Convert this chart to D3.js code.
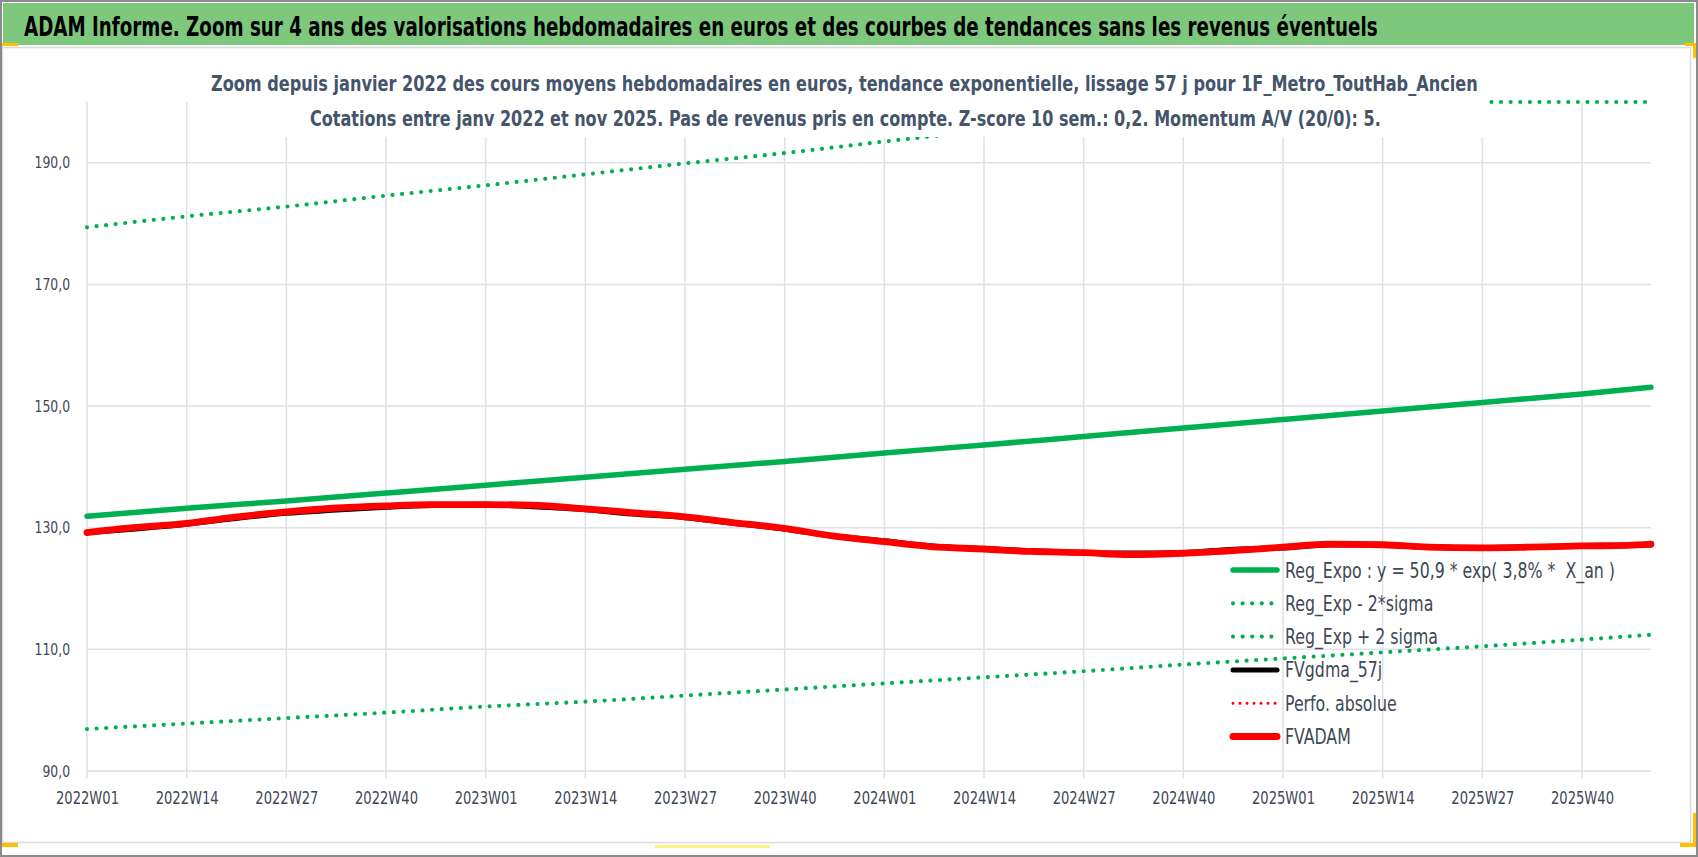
<!DOCTYPE html>
<html>
<head>
<meta charset="utf-8">
<script src="https://cdn.jsdelivr.net/npm/d3@7"></script>
<style>
  body { margin: 0; background: #fff; }
  svg { display: block; }
  text { font-family: "Liberation Sans Narrow", "DejaVu Sans Condensed", "Noto Sans", sans-serif; }
</style>
</head>
<body>
<svg id="chart" width="1698" height="857"></svg>
<script>
// ---- données ----
const years        = [2022, 2023, 2024, 2025];
const weeksPerYear = [52, 52, 52, 49];
const tickWeeks = ["2022W01","2022W14","2022W27","2022W40","2023W01","2023W14","2023W27","2023W40",
                   "2024W01","2024W14","2024W27","2024W40","2025W01","2025W14","2025W27","2025W40"];
const yTicks = [90, 110, 130, 150, 170, 190];

// courbes de tendance (relevées aux semaines de graduation + dernière semaine)
const trendWeeks = tickWeeks.concat(["2025W49"]);
const regExpo  = [131.9,133.2,134.4,135.7,137.0,138.3,139.6,140.9,142.3,143.6,145.0,146.4,147.8,149.2,150.6,152.0,153.1];
const regMinus = [96.9,97.8,98.7,99.6,100.6,101.4,102.4,103.4,104.4,105.4,106.4,107.5,108.5,109.5,110.5,111.6,112.4];
const regPlus  = [179.4,181.2,182.8,184.6,186.3,188.1,189.9,191.6,193.5,195.3,197.2,199.1,201.0,202.9,204.8,206.7,208.1];

// cours lissés
const adamWeeks = ["2022W01","2022W07","2022W14","2022W20","2022W27","2022W33","2022W40","2022W46",
                   "2023W01","2023W07","2023W14","2023W20","2023W27","2023W33","2023W40","2023W46",
                   "2024W01","2024W07","2024W14","2024W20","2024W27","2024W33","2024W40","2024W46",
                   "2025W01","2025W07","2025W14","2025W20","2025W27","2025W33","2025W40","2025W46","2025W49"];
const fvAdam = [129.2,130.0,130.7,131.7,132.6,133.2,133.6,133.8,
                133.8,133.7,133.1,132.5,131.8,130.9,129.9,128.7,
                127.7,126.9,126.5,126.1,125.9,125.6,125.8,126.2,
                126.8,127.3,127.2,126.8,126.7,126.8,127.0,127.1,127.3];
const fvGdma = [129.2,129.8,130.6,131.5,132.4,132.9,133.4,133.7,
                133.8,133.5,133.0,132.3,131.7,130.8,129.8,128.7,
                127.8,127.0,126.5,126.2,125.9,125.8,125.9,126.4,
                126.7,127.2,127.2,126.8,126.7,126.8,127.0,127.1,127.2];

const legendItems = [
  { label: "Reg_Expo : y = 50,9 * exp( 3,8% *  X_an )", color: "#00B050", width: 5.5, dash: null },
  { label: "Reg_Exp - 2*sigma",                         color: "#00B050", width: 4.2, dash: "0 9.6" },
  { label: "Reg_Exp + 2 sigma",                         color: "#00B050", width: 4.2, dash: "0 9.6" },
  { label: "FVgdma_57j",                                color: "#000000", width: 5,   dash: null },
  { label: "Perfo. absolue",                            color: "#FF0000", width: 3,   dash: "0 7" },
  { label: "FVADAM",                                    color: "#FF0000", width: 7,   dash: null }
];

// ---- construction ----
const allWeeks = [];
years.forEach((y, k) => {
  for (let w = 1; w <= weeksPerYear[k]; w++) allWeeks.push(`${y}W${String(w).padStart(2, "0")}`);
});

const svg = d3.select("#chart");
const W = 1698, H = 857;
const plot = { left: 87, right: 1651, top: 102, bottom: 771 };

const x = d3.scalePoint().domain(allWeeks).range([plot.left, plot.right]);
const y = d3.scaleLinear().domain([90, 200]).range([plot.bottom, plot.top]).clamp(true);

// resserre horizontalement un texte (police de substitution plus large que l'original)
function squeeze(sel, k) {
  sel.each(function () {
    const len = this.getComputedTextLength();
    d3.select(this).attr("textLength", len * k).attr("lengthAdjust", "spacingAndGlyphs");
  });
}
// titre condensé par une mise à l'échelle horizontale
function condensedText(px, py, width, size, weight, color, str) {
  const g = svg.append("g");
  const t = g.append("text").attr("font-size", size).attr("font-weight", weight)
             .attr("fill", color).text(str);
  const k = width / t.node().getComputedTextLength();
  g.attr("transform", `translate(${px},${py}) scale(${k},1)`);
  return t;
}

// cadre et bandeau
svg.append("rect").attr("width", W).attr("height", H).attr("fill", "#fff");
svg.append("rect").attr("x", 3).attr("y", 3).attr("width", 1691).attr("height", 42).attr("fill", "#7DC87D");
svg.append("rect").attr("x", 2.5).attr("y", 47.5).attr("width", 1688).attr("height", 795)
   .attr("fill", "#fff").attr("stroke", "#DADADA").attr("stroke-width", 1.5);
condensedText(24, 36, 1354, 26, "bold", "#000",
  "ADAM Informe. Zoom sur 4 ans des valorisations hebdomadaires en euros et des courbes de tendances sans les revenus éventuels");

// grille
const grid = svg.append("g").attr("stroke", "#DDE0E5").attr("stroke-width", 1.5);
grid.selectAll("line.h").data(yTicks).join("line")
    .attr("x1", plot.left).attr("x2", plot.right)
    .attr("y1", d => y(d)).attr("y2", d => y(d));
grid.selectAll("line.v").data(tickWeeks).join("line")
    .attr("x1", d => x(d)).attr("x2", d => x(d))
    .attr("y1", plot.top).attr("y2", plot.bottom + 7);

// axes (libellés)
const axisColor = "#3E4756";
const yAxis = d3.axisLeft(y).tickValues(yTicks).tickSize(0).tickPadding(17)
                .tickFormat(d => d3.format(".1f")(d).replace(".", ","));
const gy = svg.append("g").attr("transform", `translate(${plot.left},0)`).call(yAxis);
gy.select(".domain").remove();
const yLabels = gy.selectAll("text").attr("font-size", 16).attr("fill", axisColor).attr("font-family", null);
squeeze(yLabels, 0.86);

const xAxis = d3.axisBottom(x).tickValues(tickWeeks).tickSize(0).tickPadding(21);
const gx = svg.append("g").attr("transform", `translate(0,${plot.bottom})`).call(xAxis);
gx.select(".domain").remove();
gx.selectAll("text").attr("font-size", 17.5).attr("fill", axisColor).attr("font-family", null)
  .attr("textLength", 63).attr("lengthAdjust", "spacingAndGlyphs");

// séries
svg.append("clipPath").attr("id", "plotclip").append("rect")
   .attr("x", plot.left - 5).attr("y", plot.top - 4)
   .attr("width", plot.right - plot.left + 10).attr("height", plot.bottom - plot.top + 8);
const series = svg.append("g").attr("clip-path", "url(#plotclip)").attr("fill", "none")
                  .attr("stroke-linecap", "round").attr("stroke-linejoin", "round");

const line = d3.line().x(d => x(d[0])).y(d => y(d[1])).curve(d3.curveMonotoneX);
const zipSeries = (weeks, vals) => weeks.map((w, i) => [w, vals[i]]);

series.append("path").datum(zipSeries(trendWeeks, regMinus)).attr("d", line)
      .attr("stroke", "#00B050").attr("stroke-width", 4.2).attr("stroke-dasharray", "0 9.6");
series.append("path").datum(zipSeries(trendWeeks, regPlus)).attr("d", line)
      .attr("stroke", "#00B050").attr("stroke-width", 4.2).attr("stroke-dasharray", "0 9.6");
series.append("path").datum(zipSeries(trendWeeks, regExpo)).attr("d", line)
      .attr("stroke", "#00B050").attr("stroke-width", 5.5);
series.append("path").datum(zipSeries(adamWeeks, fvGdma)).attr("d", line)
      .attr("stroke", "#000").attr("stroke-width", 5.5);
series.append("path").datum(zipSeries(adamWeeks, fvAdam)).attr("d", line)
      .attr("stroke", "#FF0000").attr("stroke-width", 6.8);

// sous-titre (boîte blanche par-dessus la zone de tracé)
svg.append("rect").attr("x", 205).attr("y", 60).attr("width", 1282).attr("height", 77).attr("fill", "#fff");
const subColor = "#44546A";
condensedText(211, 91, 1268, 21, "bold", subColor,
  "Zoom depuis janvier 2022 des cours moyens hebdomadaires en euros, tendance exponentielle, lissage 57 j pour 1F_Metro_ToutHab_Ancien");
condensedText(310, 126, 1071, 21, "bold", subColor,
  "Cotations entre janv 2022 et nov 2025. Pas de revenus pris en compte. Z-score 10 sem.: 0,2. Momentum A/V (20/0): 5.");

// légende
const legend = svg.append("g").attr("transform", "translate(1231,570)");
const li = legend.selectAll("g").data(legendItems).join("g")
   .attr("transform", (d, i) => `translate(0,${i * 33.3})`);
li.append("line").attr("x1", 2).attr("x2", 46).attr("y1", 0).attr("y2", 0)
   .attr("stroke", d => d.color).attr("stroke-width", d => d.width)
   .attr("stroke-dasharray", d => d.dash).attr("stroke-linecap", "round");
const legTexts = li.append("text").attr("x", 54).attr("y", 7.5)
   .attr("font-size", 21.5).attr("fill", "#3E4756")
   .style("white-space", "pre")
   .text(d => d.label);
squeeze(legTexts, 330 / legTexts.node().getComputedTextLength());

// poignées de sélection (jaunes)
const handles = svg.append("g").attr("fill", "#FFC000");
handles.append("rect").attr("x", 0).attr("y", 43).attr("width", 18).attr("height", 3);
handles.append("rect").attr("x", 1685).attr("y", 43).attr("width", 11).attr("height", 3);
handles.append("rect").attr("x", 1693).attr("y", 43).attr("width", 3).attr("height", 15);
handles.append("rect").attr("x", 1693).attr("y", 813).attr("width", 3).attr("height", 34);
handles.append("rect").attr("x", 1680).attr("y", 843).attr("width", 16).attr("height", 4);
handles.append("rect").attr("x", 0).attr("y", 843).attr("width", 18).attr("height", 4);
svg.append("rect").attr("x", 655).attr("y", 845).attr("width", 115).attr("height", 3).attr("fill", "#FFF280");

// bordure extérieure
svg.append("rect").attr("x", 1).attr("y", 1).attr("width", W - 2).attr("height", H - 2)
   .attr("fill", "none").attr("stroke", "#8A8A8A").attr("stroke-width", 2);
</script>
</body>
</html>
